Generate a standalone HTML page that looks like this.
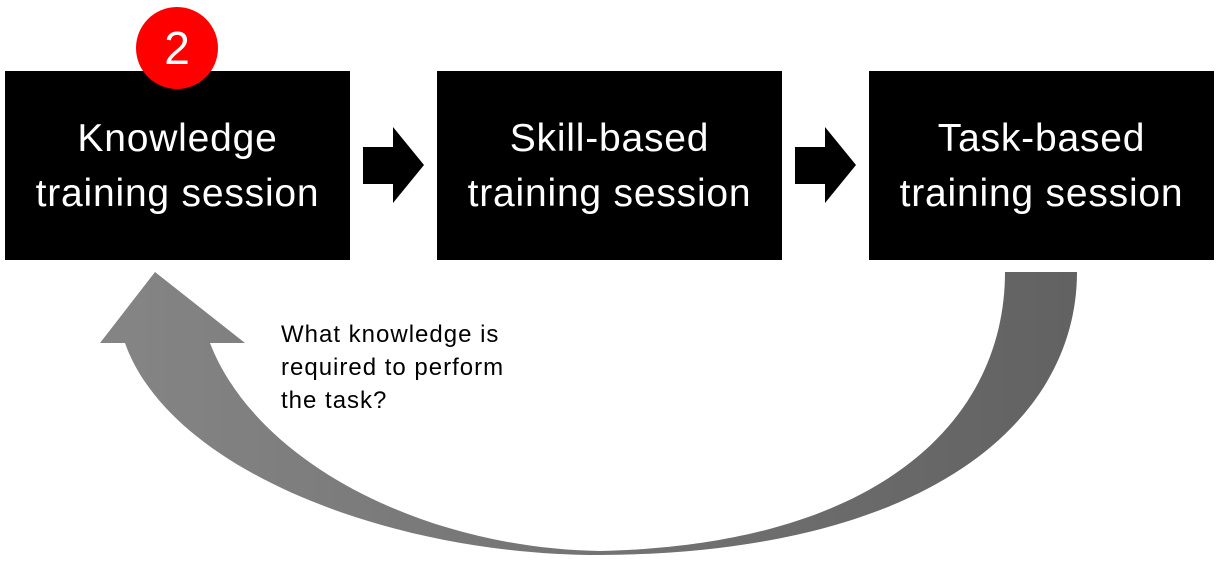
<!DOCTYPE html>
<html><head><style>
body{margin:0;width:1220px;height:567px;background:#fff;position:relative;overflow:hidden;font-family:"Liberation Sans",sans-serif}
.box{position:absolute;top:71px;width:345px;height:189px;background:#000;color:#fff;font-size:39px;letter-spacing:0.8px;line-height:55px;text-align:center;box-sizing:border-box;padding-top:40px}
.q{position:absolute;left:281px;top:318px;font-size:24px;letter-spacing:1px;line-height:33px;color:#000}
</style></head><body>
<svg width="1220" height="567" style="position:absolute;left:0;top:0">
<defs><linearGradient id="g" x1="0" x2="1" y1="0" y2="0"><stop offset="0" stop-color="#858585"/><stop offset="1" stop-color="#626262"/></linearGradient></defs>
<path d="M1077,272 C1077,420 930,553 600,555 C390,555 170,470 125,343 L100,343 L155,272 L245,343 L210,343 C255,460 420,548 600,551 C880,545 1005,420 1005,272 Z" fill="url(#g)"/>
<polygon points="363,147 393,147 393,127 424,165 393,203 393,184 363,184" fill="#000"/>
<polygon points="795,147 825,147 825,127 856,165 825,203 825,184 795,184" fill="#000"/>
</svg>
<div class="box" style="left:5px">Knowledge<br>training session</div>
<div class="box" style="left:437px">Skill-based<br>training session</div>
<div class="box" style="left:869px">Task-based<br>training session</div>
<div style="position:absolute;left:136px;top:7px;width:82px;height:82px;border-radius:50%;background:#f00;color:#fff;font-size:46px;line-height:82px;text-align:center">2</div>
<div class="q">What knowledge is<br>required to perform<br>the task?</div>
</body></html>
